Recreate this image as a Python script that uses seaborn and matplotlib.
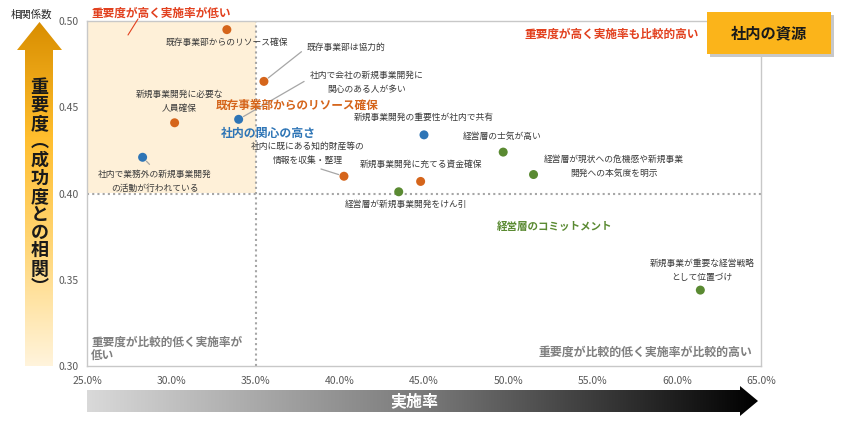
import numpy as np
import pandas as pd
import matplotlib
matplotlib.use("Agg")
import matplotlib.pyplot as plt
import seaborn as sns
from matplotlib.colors import LinearSegmentedColormap
from matplotlib.patches import Polygon, Rectangle
from matplotlib.ticker import FuncFormatter

# ---------------- data ----------------
labels = [
    "既存事業部からのリソース確保",
    "既存事業部は協力的",
    "新規事業開発に必要な\n人員確保",
    "社内で会社の新規事業開発に\n関心のある人が多い",
    "社内で業務外の新規事業開発\nの活動が行われている",
    "社内に既にある知的財産等の\n情報を収集・整理",
    "経営層が新規事業開発をけん引",
    "新規事業開発に充てる資金確保",
    "新規事業開発の重要性が社内で共有",
    "経営層の士気が高い",
    "経営層が現状への危機感や新規事業\n開発への本気度を明示",
    "新規事業が重要な経営戦略\nとして位置づけ",
]
impl_rate = [33.3, 35.5, 30.2, 34.0, 28.3, 40.25, 43.5, 44.8, 45.0, 49.7, 51.5, 61.4]
corr = [0.495, 0.465, 0.441, 0.443, 0.421, 0.410, 0.401, 0.407, 0.434, 0.424, 0.411, 0.344]
group = ["resource", "resource", "resource", "interest", "interest", "resource",
         "commit", "resource", "interest", "commit", "commit", "commit"]
group_names = {"resource": "既存事業部からのリソース確保",
               "interest": "社内の関心の高さ",
               "commit": "経営層のコミットメント"}
x_ticks = [25, 30, 35, 40, 45, 50, 55, 60, 65]
y_ticks = [0.30, 0.35, 0.40, 0.45, 0.50]
x_threshold = 35
y_threshold = 0.40

# ---------------- styles / layout ----------------
sns.set_style("white")
plt.rcParams["font.family"] = ["Noto Sans CJK JP", "DejaVu Sans"]

palette = {"resource": "#D5651B", "interest": "#2E75B6", "commit": "#5A8A32"}
RED = "#E2401E"
GRAY_TXT = "#7F7F7F"

# label offsets (pixels) and alignment, per point
label_style = [
    dict(off=(0, -13), ha="center"),
    dict(off=(43, 34), ha="left", line=True, relpos=(0, 0.5)),
    dict(off=(5, 21), ha="center"),
    dict(off=(128, 37), ha="center", line=True, relpos=(0, 0.68)),
    dict(off=(12, -24), ha="center", line=True, relpos=(0.5, 1.0)),
    dict(off=(-36, 23), ha="center", line=True, relpos=(0.5, 0.0)),
    dict(off=(7, -13), ha="center"),
    dict(off=(0, 17), ha="center"),
    dict(off=(0, 17), ha="center"),
    dict(off=(-1, 16), ha="center"),
    dict(off=(80, 8), ha="center"),
    dict(off=(2, 20), ha="center"),
]

W, H = 846, 430
fig = plt.figure(figsize=(W / 100, H / 100), dpi=100)
fig.patch.set_facecolor("white")

L, R, T, B = 87, 761, 21, 366
ax = fig.add_axes([L / W, 1 - B / H, (R - L) / W, (B - T) / H])

df = pd.DataFrame({"impl": impl_rate, "corr": corr, "group": group, "label": labels})

# shaded quadrant
ax.axvspan(x_ticks[0], x_threshold, ymin=(y_threshold - y_ticks[0]) / (y_ticks[-1] - y_ticks[0]),
           ymax=1, color="#FEF0D8", zorder=0, lw=0)
ax.axvline(x_threshold, color="#A6A6A6", ls=(0, (1, 1.5)), lw=1.5, zorder=1)
ax.axhline(y_threshold, color="#A6A6A6", ls=(0, (1, 1.5)), lw=1.5, zorder=1)

sns.scatterplot(data=df, x="impl", y="corr", hue="group", palette=palette, s=42,
                linewidth=0, legend=False, ax=ax, zorder=3)

ax.set_xlim(x_ticks[0], x_ticks[-1])
ax.set_ylim(y_ticks[0], y_ticks[-1])
ax.set_xticks(x_ticks)
ax.set_yticks(y_ticks)
ax.xaxis.set_major_formatter(FuncFormatter(lambda v, p: f"{v:.1f}%"))
ax.yaxis.set_major_formatter(FuncFormatter(lambda v, p: f"{v:.2f}"))
ax.tick_params(axis="both", length=0, labelsize=7.5, colors="#595959")
ax.tick_params(axis="x", pad=7)
ax.tick_params(axis="y", pad=6)
ax.set_xlabel("")
ax.set_ylabel("")
for sp in ax.spines.values():
    sp.set_visible(True)
    sp.set_color("#C8C8C8")
    sp.set_linewidth(1)

# point labels
for i, row in df.iterrows():
    st = label_style[i]
    kw = dict(xy=(row["impl"], row["corr"]), xytext=st["off"], textcoords="offset pixels",
              ha=st["ha"], va="center", fontsize=6.3, color="#3A3A3A",
              linespacing=1.75, multialignment="center", zorder=4)
    if st.get("line"):
        kw["arrowprops"] = dict(arrowstyle="-", color="#A6A6A6", lw=0.9,
                                shrinkA=2, shrinkB=4, relpos=st["relpos"])
    ax.annotate(row["label"], **kw)

# ---------------- overlay (pixel coords) ----------------
ov = fig.add_axes([0, 0, 1, 1], zorder=5)
ov.set_xlim(0, W)
ov.set_ylim(H, 0)
ov.axis("off")
ov.patch.set_alpha(0)

# group labels
ov.text(297, 105, group_names["resource"], color=palette["resource"], fontsize=8.4,
        fontweight="bold", ha="center", va="center")
ov.text(268, 133, group_names["interest"], color=palette["interest"], fontsize=8.6,
        fontweight="bold", ha="center", va="center")
ov.text(555, 227, group_names["commit"], color=palette["commit"], fontsize=7.6,
        fontweight="bold", ha="center", va="center")

# quadrant labels
ov.text(91, 13, "重要度が高く実施率が低い", color=RED, fontsize=8.4, fontweight="bold",
        ha="left", va="center")
ov.plot([128, 138], [35, 19], color=RED, lw=0.8)
ov.text(699, 34, "重要度が高く実施率も比較的高い", color=RED, fontsize=8.4, fontweight="bold",
        ha="right", va="center")
ov.text(91, 342, "重要度が比較的低く実施率が", color=GRAY_TXT, fontsize=8.4,
        fontweight="bold", ha="left", va="center")
ov.text(91, 356, "低い", color=GRAY_TXT, fontsize=8.4, fontweight="bold",
        ha="left", va="center")
ov.text(752, 352, "重要度が比較的低く実施率が比較的高い", color=GRAY_TXT, fontsize=8.6,
        fontweight="bold", ha="right", va="center")

# title box
ov.add_patch(Rectangle((710, 15), 124, 42, facecolor="#C8C8C8", edgecolor="none", zorder=1))
ov.add_patch(Rectangle((707, 12), 124, 42, facecolor="#FBB41A", edgecolor="none", zorder=2))
ov.text(769, 33, "社内の資源", fontsize=11, fontweight="bold", color="#1A1A1A",
        ha="center", va="center", zorder=3)

# y-axis arrow with gradient
ycmap = LinearSegmentedColormap.from_list("yc", ["#D98E00", "#FFBE2E", "#FFD77A", "#FFF4DC"])
grad_v = np.linspace(0, 1, 256).reshape(-1, 1)
imv = ov.imshow(grad_v, extent=[17, 62, 366, 22], cmap=ycmap, aspect="auto", origin="upper", zorder=1)
poly_v = Polygon([(39.5, 22), (62, 50), (53, 50), (53, 366), (25, 366), (25, 50), (17, 50)],
                 closed=True, transform=ov.transData, facecolor="none", edgecolor="none")
ov.add_patch(poly_v)
imv.set_clip_path(poly_v)
vchars = list("重要度") + ["︵"] + list("成功度との相関") + ["︶"]
for k, ch in enumerate(vchars):
    ov.text(39.5, 87 + k * 18.2, ch, fontsize=13, fontweight="bold", color="#1A1A1A",
            ha="center", va="center", zorder=3)
ov.text(31, 15, "相関係数", fontsize=7.5, color="#262626", ha="center", va="center")

# x-axis arrow with gradient
xcmap = LinearSegmentedColormap.from_list("xc", ["#D9D9D9", "#7A7A7A", "#000000"])
grad_h = np.linspace(0, 1, 256).reshape(1, -1)
imh = ov.imshow(grad_h, extent=[87, 759, 416, 385], cmap=xcmap, aspect="auto", zorder=1)
poly_h = Polygon([(87, 390), (740, 390), (740, 386), (758, 401), (740, 416), (740, 412), (87, 412)],
                 closed=True, transform=ov.transData, facecolor="none", edgecolor="none")
ov.add_patch(poly_h)
imh.set_clip_path(poly_h)
ov.text(414, 401, "実施率", fontsize=11.5, fontweight="bold", color="white",
        ha="center", va="center", zorder=3)

fig.savefig("out.png", dpi=100)
